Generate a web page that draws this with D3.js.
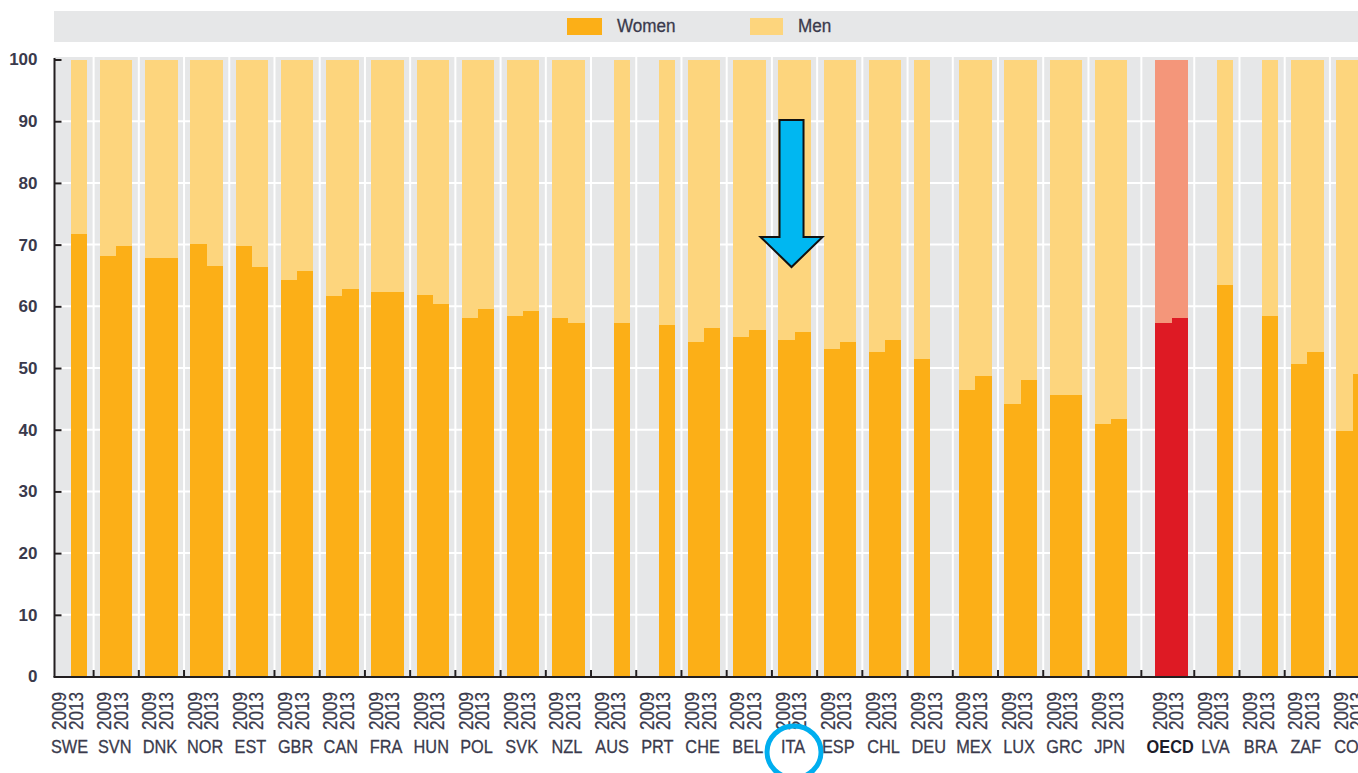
<!DOCTYPE html>
<html>
<head>
<meta charset="utf-8">
<script src="https://cdn.jsdelivr.net/npm/d3@7"></script>
<style>
  html, body { margin: 0; padding: 0; background: #fff; }
  svg { display: block; }
  text { font-family: "Liberation Sans Narrow", "Arial Narrow", "Liberation Sans", sans-serif; }
</style>
</head>
<body>
<script>
// ---------------- data ----------------
const countries = ["SWE","SVN","DNK","NOR","EST","GBR","CAN","FRA","HUN","POL","SVK","NZL","AUS","PRT","CHE","BEL","ITA","ESP","CHL","DEU","MEX","LUX","GRC","JPN","OECD","LVA","BRA","ZAF","COL"];
const years = ["2009", "2013"];
const women2009 = [null,68.2,67.8,70.1,69.7,64.3,61.6,62.3,61.9,58.1,58.5,58.1,null,null,54.2,55.0,54.5,53.0,52.6,51.5,46.4,44.1,45.6,40.9,57.3,null,null,50.7,39.8];
const women2013 = [71.7,69.8,67.8,66.6,66.3,65.8,62.8,62.3,60.4,59.6,59.2,57.3,57.3,56.9,56.5,56.1,55.8,54.2,54.5,null,48.7,48.0,45.6,41.7,58.1,63.5,58.5,52.6,49.1];
const seriesNames = ["Women", "Men"];
const yTicks = [0,10,20,30,40,50,60,70,80,90,100];
const highlight = "OECD";
const annotated = "ITA";

// ---------------- layout ----------------
const W = 1358, H = 773;
const colors = {
  women: "#FCAF17", men: "#FDD57D",
  oecdWomen: "#DE1A24", oecdMen: "#F4967A",
  bg: "#E6E7E8", grid: "#FFFFFF", axis: "#231F20", text: "#3A3A4C"
};
const plotLeft = 54.5, plotTop = 57, plotBottom = 677;
const gapAfter = countries.indexOf(highlight); // extra gap before OECD
const slotPos = i => i + (i >= gapAfter ? 0.34 : 0);
const barW = 16.2;

const svg = d3.select("body").append("svg")
  .attr("width", W).attr("height", H);

const x = d3.scaleLinear().domain([0, 1]).range([71, 71 + 45.22]);
const y = d3.scaleLinear().domain([0, 100]).range([676.5, 59.5]);

// legend band
svg.append("rect").attr("x", 54).attr("y", 11).attr("width", W).attr("height", 31)
  .attr("fill", colors.bg);
const legendItems = [
  { name: seriesNames[0], color: colors.women, sx: 567, sw: 35, tx: 617 },
  { name: seriesNames[1], color: colors.men, sx: 750, sw: 33, tx: 798 }
];
legendItems.forEach(d => {
  svg.append("rect").attr("x", d.sx).attr("y", 18).attr("width", d.sw).attr("height", 17).attr("fill", d.color);
  svg.append("text").attr("transform", `translate(${d.tx},32) scale(0.9,1)`).attr("font-size", 19)
    .attr("fill", colors.text).attr("stroke", colors.text).attr("stroke-width", 0.3).text(d.name);
});

// plot background
svg.append("rect").attr("x", plotLeft).attr("y", plotTop)
  .attr("width", W - plotLeft + 10).attr("height", plotBottom - plotTop)
  .attr("fill", colors.bg);

// horizontal gridlines
svg.append("g").selectAll("line").data(yTicks.filter(t => t > 0 && t < 100)).join("line")
  .attr("x1", plotLeft).attr("x2", W + 10)
  .attr("y1", d => y(d)).attr("y2", d => y(d))
  .attr("stroke", colors.grid).attr("stroke-width", 2);

// group boundaries
const centers = countries.map((c, i) => x(slotPos(i)));
const bounds = [];
for (let i = 0; i < countries.length - 1; i++) bounds.push((centers[i] + centers[i + 1]) / 2);

svg.append("g").selectAll("line").data(bounds).join("line")
  .attr("x1", d => d).attr("x2", d => d)
  .attr("y1", plotTop).attr("y2", plotBottom)
  .attr("stroke", colors.grid).attr("stroke-width", 2);

// bars
const bars = [];
countries.forEach((c, i) => {
  [women2009[i], women2013[i]].forEach((v, k) => {
    if (v == null) return;
    bars.push({ c, i, k, women: v, men: 100 - v });
  });
});
const isH = d => d.c === highlight;
const barX = d => centers[d.i] + (d.k === 0 ? -barW : 0);

const gb = svg.append("g").attr("shape-rendering", "crispEdges");
gb.selectAll("rect.men").data(bars).join("rect").attr("class", "men")
  .attr("x", barX).attr("width", barW)
  .attr("y", d => y(d.women + d.men)).attr("height", d => y(d.women) - y(d.women + d.men))
  .attr("fill", d => isH(d) ? colors.oecdMen : colors.men);
gb.selectAll("rect.women").data(bars).join("rect").attr("class", "women")
  .attr("x", barX).attr("width", barW)
  .attr("y", d => y(d.women)).attr("height", d => y(0) - y(d.women))
  .attr("fill", d => isH(d) ? colors.oecdWomen : colors.women);

// y axis
const yAxis = d3.axisLeft(y).tickValues(yTicks).tickSizeInner(-7).tickSizeOuter(0).tickPadding(17);
const gy = svg.append("g").attr("transform", `translate(${plotLeft},0)`).call(yAxis);
gy.select(".domain").attr("stroke", colors.axis).attr("stroke-width", 2)
  .attr("d", `M0,${plotTop + 1}V${plotBottom}`);
gy.selectAll(".tick line").attr("stroke", colors.axis).attr("stroke-width", 2);
gy.selectAll(".tick text").attr("fill", colors.text).attr("font-size", 17)
  .style("font-family", '"Liberation Sans", sans-serif').attr("font-weight", "bold");

// x axis line + ticks
svg.append("line").attr("x1", plotLeft - 1).attr("x2", W + 10)
  .attr("y1", plotBottom).attr("y2", plotBottom)
  .attr("stroke", colors.axis).attr("stroke-width", 2);
svg.append("g").selectAll("line").data(bounds).join("line")
  .attr("x1", d => d).attr("x2", d => d)
  .attr("y1", plotBottom).attr("y2", plotBottom - 7)
  .attr("stroke", colors.axis).attr("stroke-width", 2);

// x labels
const gl = svg.append("g");
countries.forEach((c, i) => {
  const cx = centers[i];
  years.forEach((yr, k) => {
    const tx = cx + (k === 0 ? -5 : 11.5);
    gl.append("text")
      .attr("transform", `translate(${tx},692) rotate(-90) scale(0.9,1.02)`)
      .attr("text-anchor", "end")
      .attr("font-size", 19)
      .attr("fill", colors.text).attr("stroke", colors.text).attr("stroke-width", 0.25).text(yr);
  });
  const hl = c === highlight;
  gl.append("text").attr("transform", `translate(${cx - 1.5},753) scale(0.86,1)`)
    .attr("text-anchor", "middle").attr("font-size", 19)
    .attr("font-weight", hl ? "bold" : "normal")
    .attr("fill", hl ? "#1d1d2a" : colors.text)
    .attr("stroke", hl ? "none" : colors.text).attr("stroke-width", 0.3).text(c);
});

// annotation: arrow and circle around highlighted country
const ax = centers[countries.indexOf(annotated)];
svg.append("polygon")
  .attr("points", [[ax - 15, 120], [ax + 9, 120], [ax + 9, 237], [ax + 28, 237], [ax - 3, 267], [ax - 34, 237], [ax - 15, 237]].map(p => p.join(",")).join(" "))
  .attr("fill", "#00B7F1").attr("stroke", "#111").attr("stroke-width", 2);
svg.append("ellipse").attr("cx", ax - 0.5).attr("cy", 752).attr("rx", 27).attr("ry", 26)
  .attr("fill", "none").attr("stroke", "#00AEEF").attr("stroke-width", 5);
</script>
</body>
</html>
